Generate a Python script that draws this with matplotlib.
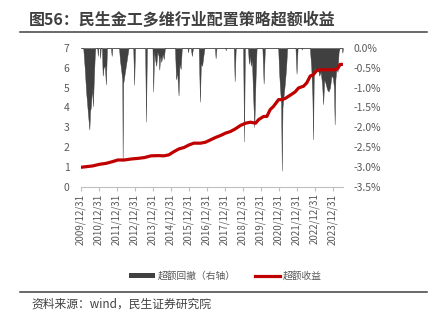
import matplotlib
matplotlib.use("Agg")
import matplotlib.pyplot as plt
from matplotlib.lines import Line2D
from matplotlib.patches import Patch

plt.rcParams['font.family'] = ['Noto Sans CJK SC', 'DejaVu Sans']

# ---- data (x = fractional year) ----
tick_labels = [f"{y}/12/31" for y in range(2009, 2024)]
tick_pos = list(range(2010, 2025))

# 超额收益 (left axis, net value)
line_t = [2010.0, 2010.29, 2010.67, 2011.03, 2011.41, 2011.78, 2012.06, 2012.42,
          2012.8, 2013.17, 2013.53, 2013.91, 2014.28, 2014.63, 2014.9, 2015.18,
          2015.46, 2015.74, 2016.02, 2016.29, 2016.67, 2016.94, 2017.22, 2017.5,
          2017.78, 2018.06, 2018.33, 2018.61, 2018.89, 2019.17, 2019.44, 2019.72,
          2019.89, 2020.17, 2020.35, 2020.53, 2020.72, 2021.0, 2021.18, 2021.37,
          2021.64, 2021.92, 2022.11, 2022.39, 2022.57, 2022.76, 2022.94, 2023.13,
          2023.41, 2023.78, 2024.15, 2024.3, 2024.42, 2024.58]
line_v = [0.97, 1.0, 1.04, 1.12, 1.17, 1.26, 1.34, 1.34, 1.39, 1.42, 1.46, 1.55,
          1.56, 1.55, 1.6, 1.76, 1.9, 1.97, 2.1, 2.19, 2.19, 2.24, 2.36, 2.48,
          2.58, 2.7, 2.78, 2.92, 3.09, 3.2, 3.25, 3.2, 3.38, 3.54, 3.54, 3.88,
          4.05, 4.39, 4.39, 4.45, 4.61, 4.78, 4.98, 5.07, 5.24, 5.58, 5.66, 5.87,
          5.9, 5.9, 5.9, 5.97, 6.17, 6.17]

# 超额回撤 (right axis, %)
dd_t = [2010.0, 2010.14, 2010.22, 2010.30, 2010.41, 2010.48, 2010.52, 2010.56,
        2010.63, 2010.68, 2010.72, 2010.78, 2010.81,
        2010.92, 2010.95, 2010.98, 2011.05, 2011.08, 2011.11, 2011.18, 2011.22,
        2011.27, 2011.34, 2011.40, 2011.46, 2011.68, 2011.72, 2011.76,
        2012.13, 2012.18, 2012.26, 2012.31, 2012.33, 2012.36, 2012.46, 2012.56,
        2012.66, 2012.92, 2012.97, 2013.02, 2013.58, 2013.63, 2013.68,
        2013.99, 2014.03, 2014.08, 2014.14, 2014.20, 2014.26, 2014.33, 2014.37,
        2014.42, 2014.48, 2014.55, 2014.62, 2014.68,
        2015.24, 2015.30, 2015.36, 2015.44, 2015.49, 2015.56, 2015.62,
        2015.94, 2015.97, 2016.0, 2016.12, 2016.18, 2016.24,
        2016.56, 2016.63, 2016.68, 2016.75, 2016.82, 2016.88,
        2017.46, 2017.5, 2017.55, 2018.04, 2018.06, 2018.08,
        2018.51, 2018.56, 2018.62, 2019.03, 2019.08, 2019.13,
        2019.30, 2019.35, 2019.40, 2019.46, 2019.52, 2019.57, 2019.65, 2019.72,
        2019.78, 2020.10, 2020.17, 2020.24,
        2020.98, 2021.03, 2021.08, 2021.14, 2021.18, 2021.22, 2021.28, 2021.35,
        2021.42, 2021.48, 2021.94, 2022.0, 2022.06, 2022.27, 2022.29, 2022.31,
        2022.74, 2022.82, 2022.88, 2022.92, 2022.96, 2023.02, 2023.10, 2023.18,
        2023.26, 2023.34, 2023.42, 2023.48, 2023.54, 2023.62, 2023.70, 2023.78,
        2023.86, 2023.94, 2024.02, 2024.08, 2024.12, 2024.16, 2024.22, 2024.28,
        2024.34, 2024.40, 2024.52, 2024.55, 2024.58]
dd_v = [0, 0, -0.5, -1.1, -1.7, -2.06, -1.6, -1.5,
        -1.0, -1.47, -0.9, -0.2, 0,
        0, -0.2, 0, 0, -0.25, 0, 0, -0.7,
        -0.5, -0.45, -0.92, 0, 0, -0.2, 0,
        0, -0.3, -0.6, -0.8, -2.86, -0.9, -0.6, -0.3,
        0, 0, -0.93, 0, 0, -1.86, 0,
        0, -1.1, -0.1, -0.3, -0.45, -0.1, -0.2, -0.55,
        -0.2, -0.35, -0.15, -0.28, 0,
        0, -0.79, -0.6, -1.2, -0.4, -0.53, 0,
        0, -0.11, 0, 0, -0.2, 0,
        0, -1.36, -0.4, -0.45, -0.2, 0,
        0, -0.26, 0, 0, -0.06, 0,
        0, -0.84, 0, 0, -2.36, 0,
        0, -0.4, -0.2, -0.45, -0.3, -1.0, -2.0, -0.8,
        0, 0, -0.9, 0,
        0, -0.6, -1.0, -1.4, -3.1, -1.5, -1.2, -0.9,
        -0.5, 0, 0, -0.65, 0, 0, -0.04, 0,
        0, -0.5, -1.2, -2.31, -0.6, -0.5, -0.6, -0.5,
        -0.7, -0.6, -0.9, -1.42, -0.8, -0.9, -1.05, -1.1,
        -1.0, -0.7, -0.75, -1.0, -1.93, -0.8, -0.5, -0.6,
        -0.1, 0, 0, -0.12, 0]

label_color = '#595959'
dark = '#404040'
red = '#C00000'

fig = plt.figure(figsize=(4.34, 3.23), dpi=100)
ax = fig.add_axes([0.186, 0.4226, 0.605, 0.4288])
ax2 = ax.twinx()

# drawdown on right axis, behind the line
ax2.fill_between(dd_t, dd_v, 0, color=dark, linewidth=0.3, edgecolor=dark)
ax2.set_ylim(-3.5, 0)
ax2.set_yticks([0, -0.5, -1.0, -1.5, -2.0, -2.5, -3.0, -3.5])
ax2.set_yticklabels([f"{v:.1f}%" for v in [0, -0.5, -1.0, -1.5, -2.0, -2.5, -3.0, -3.5]])

ax.plot(line_t, line_v, color=red, linewidth=2.3, solid_capstyle='butt')
ax.set_ylim(0, 7)
ax.set_yticks(range(0, 8))
ax.set_xlim(2010.0, 2024.6)
ax.set_xticks(tick_pos)
ax.set_xticklabels(tick_labels, rotation=90)

ax.set_zorder(ax2.get_zorder() + 1)
ax.patch.set_visible(False)

for a in (ax, ax2):
    for s in a.spines.values():
        s.set_visible(False)
ax.spines['bottom'].set_visible(True)
ax.spines['bottom'].set_color('#BFBFBF')
ax.spines['bottom'].set_linewidth(0.8)

ax.tick_params(axis='x', length=3, width=0.8, color='#BFBFBF', labelsize=7,
               labelcolor=label_color, pad=2)
ax.tick_params(axis='y', length=0, labelsize=7.5, labelcolor=label_color, pad=8)
ax2.tick_params(axis='y', length=0, labelsize=7.5, labelcolor=label_color, pad=7)
ax2.tick_params(axis='x', length=0)

# title + rules
fig.text(29 / 434, 1 - 20 / 323, "图56：民生金工多维行业配置策略超额收益",
         fontsize=11.5, fontweight='bold', color=dark, va='center', ha='left')
fig.add_artist(Line2D([20 / 434, 427 / 434], [1 - 31.5 / 323] * 2,
                      color=dark, linewidth=1.1))
fig.add_artist(Line2D([20 / 434, 427 / 434], [1 - 292 / 323] * 2,
                      color=dark, linewidth=1.1))
fig.text(31 / 434, 1 - 304 / 323, "资料来源：wind，民生证券研究院",
         fontsize=8.5, color=dark, va='center', ha='left')

handles = [Patch(facecolor=dark, edgecolor='none'),
           Line2D([0], [0], color=red, linewidth=2.3)]
fig.legend(handles, ["超额回撤（右轴）", "超额收益"], loc='center',
           bbox_to_anchor=(0.52, 1 - 276 / 323), ncol=2, frameon=False,
           fontsize=7, labelcolor=label_color, handlelength=2.6, handleheight=0.5,
           handletextpad=0.3, columnspacing=2.0)

fig.savefig("out.png", dpi=100)
